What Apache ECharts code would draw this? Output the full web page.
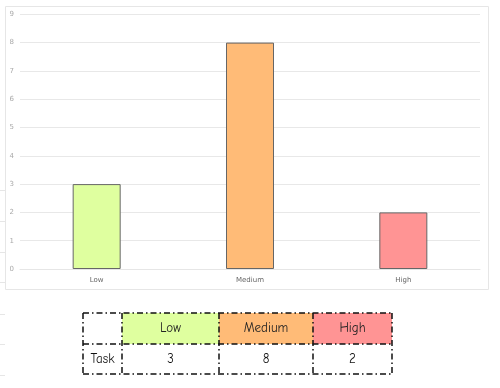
<!DOCTYPE html>
<html><head><meta charset="utf-8">
<script src="https://cdn.jsdelivr.net/npm/echarts@6/dist/echarts.min.js"></script>
<style>html,body{margin:0;padding:0;background:#fff}#c{width:500px;height:388px}</style>
</head><body><div id="c"></div>
<script>
var categories = ['Low', 'Medium', 'High'];
var taskValues = [3, 8, 2];
var rowLabel = 'Task';
var yTicks = [0,1,2,3,4,5,6,7,8,9];
var barColors = ['#dfff9f', '#ffbb77', '#ff9494'];

var chart = echarts.init(document.getElementById('c'), null, {renderer:'canvas'});

// table layout
var colX = [83, 122, 219, 313, 392];
var rowY = [313, 344, 374];
var dash = [6, 3, 1.5, 3];
var tableFont = '"Comic Sans MS","Comic Neue","DejaVu Sans",sans-serif';
var g = [];
// frame
g.push({type:'rect', shape:{x:5.5,y:6.5,width:483,height:283}, style:{fill:'none', stroke:'#e6e6e6', lineWidth:1}, z:0});
// faint left edge lines
[190,221,252,282,314,344,375].forEach(function(y){
  g.push({type:'line', shape:{x1:0,y1:y+0.5,x2:5,y2:y+0.5}, style:{stroke:'#e6e6e6', lineWidth:1}});
});
// header fills
for (var i=0;i<categories.length;i++){
  g.push({type:'rect', shape:{x:colX[i+1], y:rowY[0], width:colX[i+2]-colX[i+1], height:rowY[1]-rowY[0]}, style:{fill:barColors[i]}, z:1});
  g.push({type:'text', x:(colX[i+1]+colX[i+2])/2, y:(rowY[0]+rowY[1])/2, style:{text:categories[i], fill:'#222', font:'13px '+tableFont, textAlign:'center', textVerticalAlign:'middle'}, z:3});
  g.push({type:'text', x:(colX[i+1]+colX[i+2])/2, y:(rowY[1]+rowY[2])/2, style:{text:String(taskValues[i]), fill:'#111', font:'13px '+tableFont, textAlign:'center', textVerticalAlign:'middle'}, z:3});
}
g.push({type:'text', x:(colX[0]+colX[1])/2, y:(rowY[1]+rowY[2])/2, style:{text:rowLabel, fill:'#111', font:'13px '+tableFont, textAlign:'center', textVerticalAlign:'middle'}, z:3});
// grid lines of table
rowY.forEach(function(y){
  g.push({type:'line', shape:{x1:colX[0], y1:y, x2:colX[colX.length-1], y2:y}, style:{stroke:'#111', lineWidth:1.5, lineDash:dash}, z:2});
});
colX.forEach(function(x){
  g.push({type:'line', shape:{x1:x, y1:rowY[0], x2:x, y2:rowY[rowY.length-1]}, style:{stroke:'#111', lineWidth:1.5, lineDash:dash}, z:2});
});

chart.setOption({
  animation:false,
  backgroundColor:'#fff',
  grid:{left:20, right:20, top:14.3, bottom:119, containLabel:false},
  xAxis:{type:'category', data:categories,
    axisLine:{show:true, lineStyle:{color:'#e6e6e6', width:1}},
    axisTick:{show:false},
    axisLabel:{color:'#666', fontSize:7, margin:8, fontFamily:'DejaVu Sans'}},
  yAxis:{type:'value', min:yTicks[0], max:yTicks[yTicks.length-1], interval:1,
    axisLine:{show:false}, axisTick:{show:false},
    splitLine:{lineStyle:{color:'#e8e8e8', width:1}},
    axisLabel:{color:'#aaa', fontSize:7, margin:6, fontFamily:'DejaVu Sans'}},
  series:[{type:'bar', barWidth:48,
    data: taskValues.map(function(v,i){return {value:v, itemStyle:{color:barColors[i]}};}),
    itemStyle:{borderColor:'#666', borderWidth:1}}],
  graphic:g
});
</script></body></html>
